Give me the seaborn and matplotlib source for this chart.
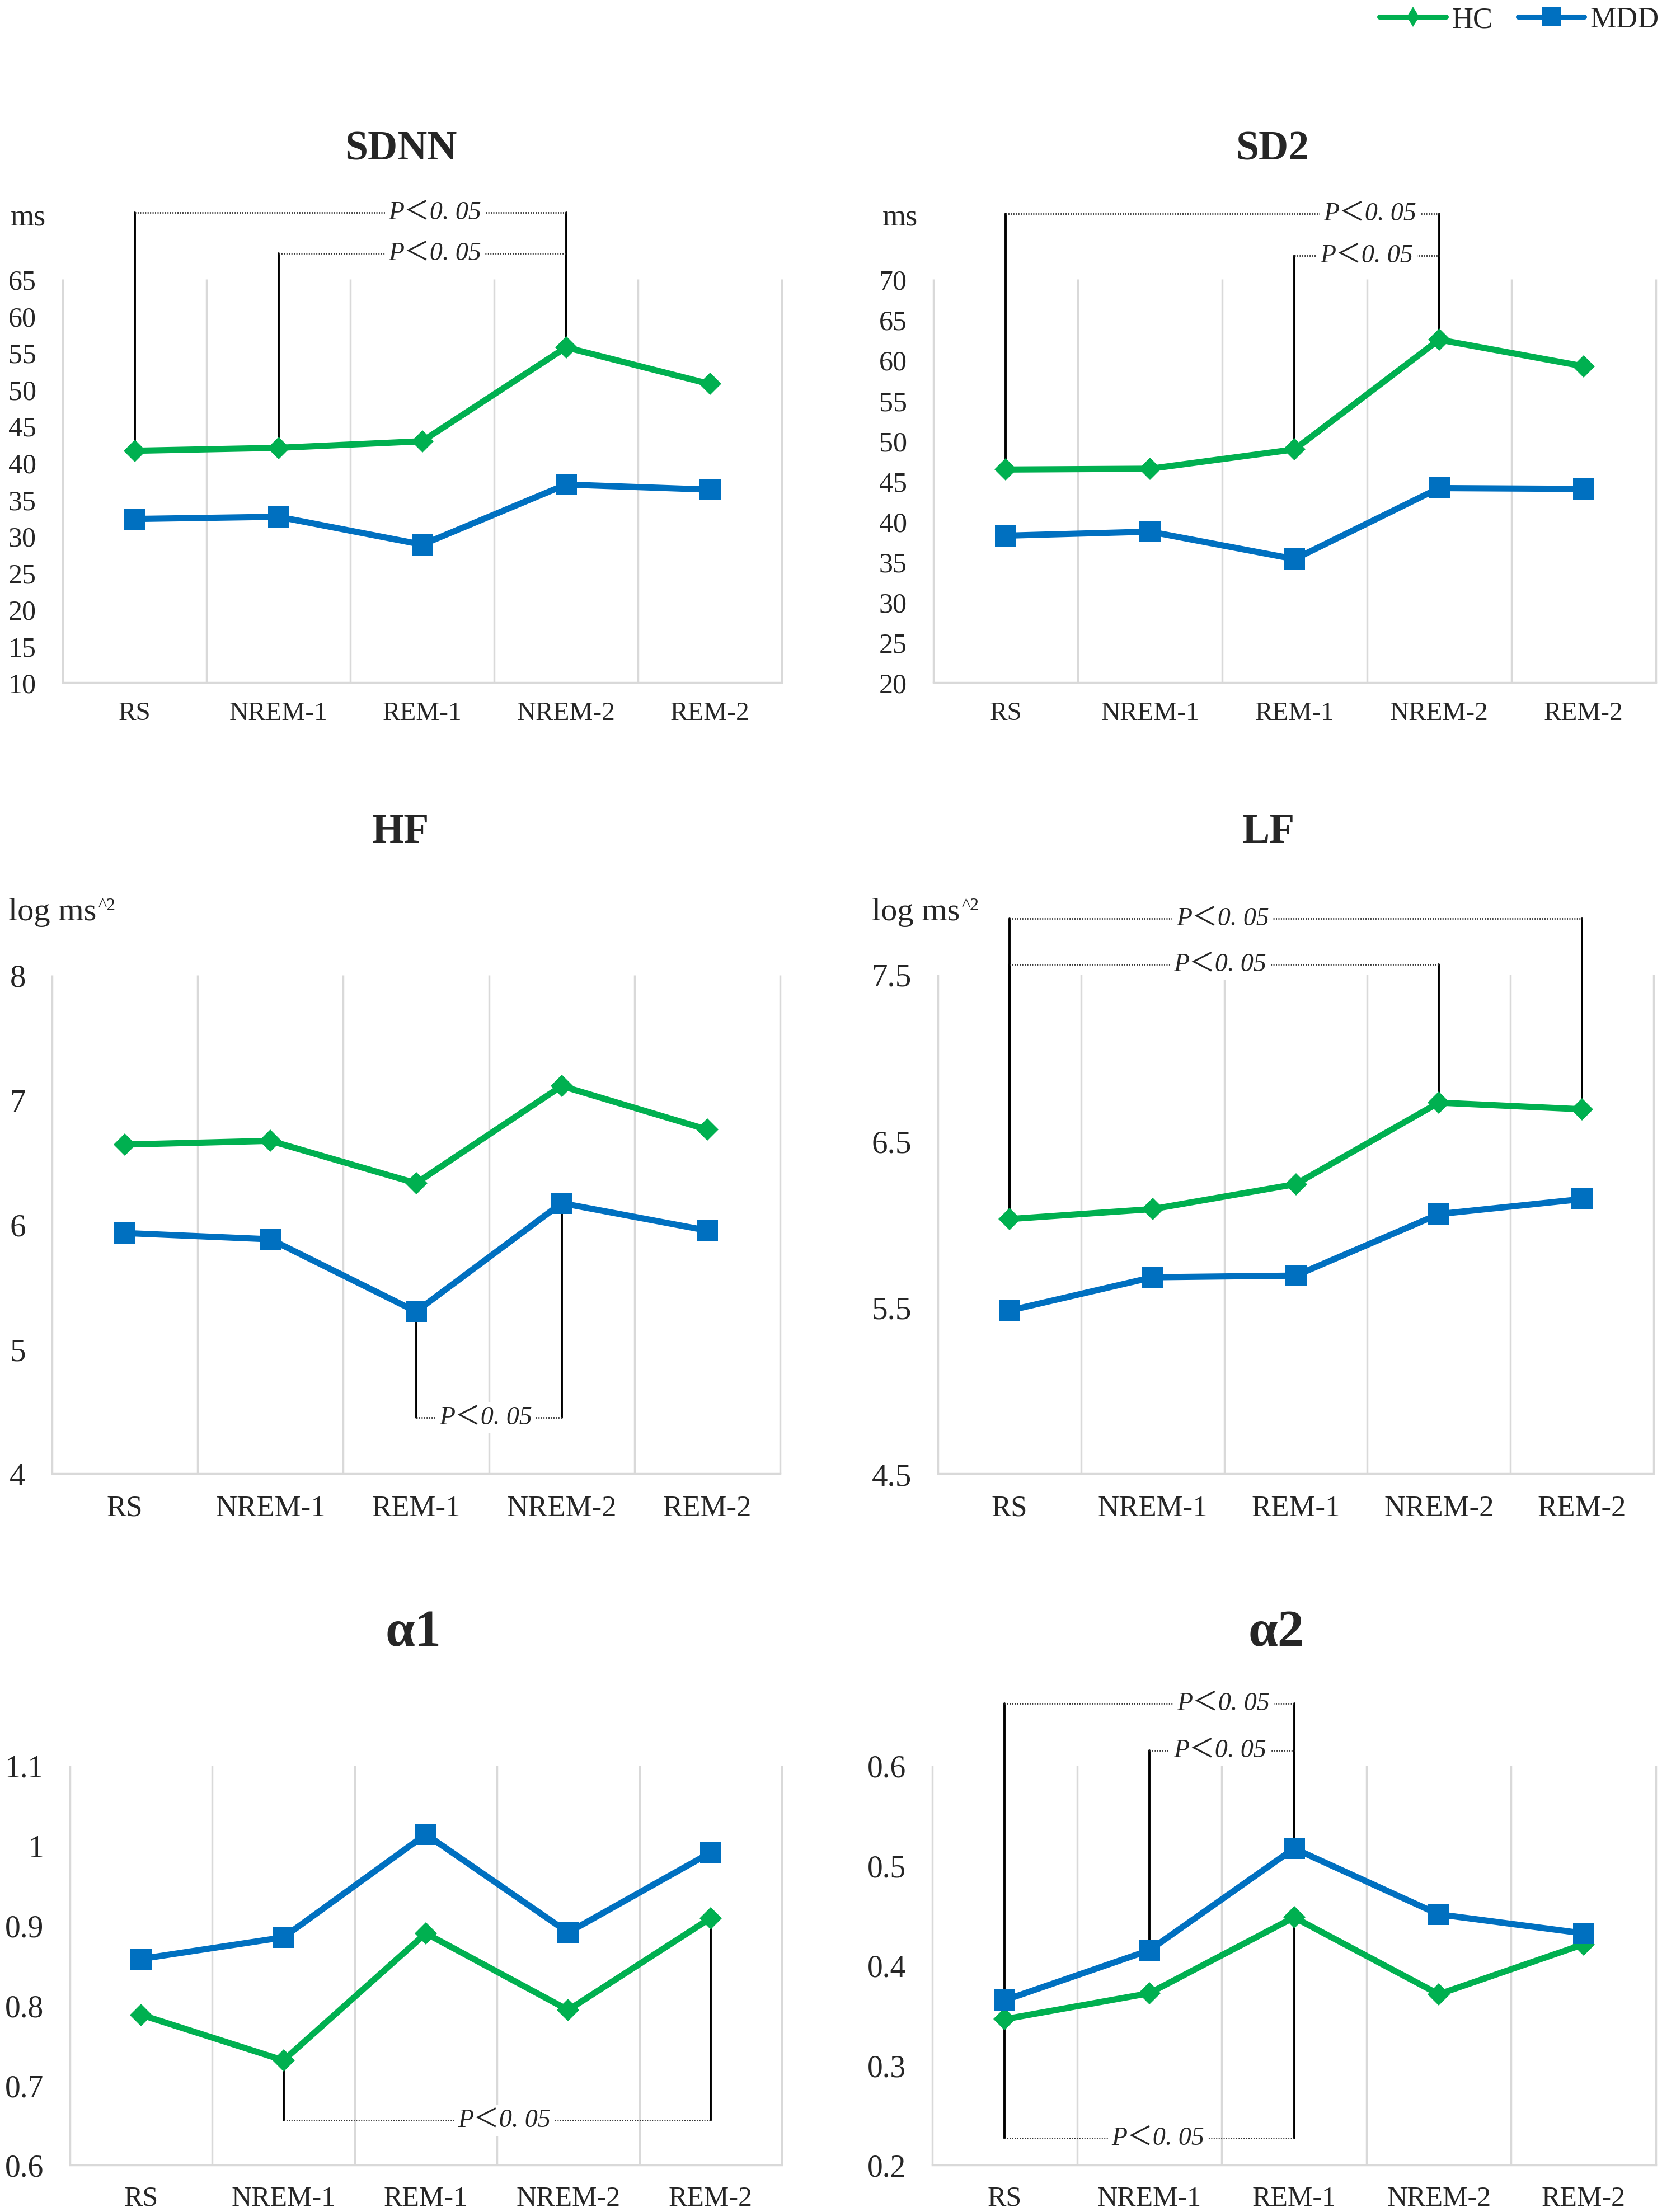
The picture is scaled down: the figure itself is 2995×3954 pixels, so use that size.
import numpy as np
import pandas as pd
import matplotlib
matplotlib.use("Agg")
import matplotlib.pyplot as plt
from matplotlib.lines import Line2D
import seaborn as sns

sns.set_theme(style="white")
plt.rcParams["font.family"] = ["Liberation Serif", "DejaVu Serif"]

# =========================
# Data
# =========================
stages = ["RS", "NREM-1", "REM-1", "NREM-2", "REM-2"]

sdnn_hc = [41.6, 42.0, 42.9, 55.7, 50.7]
sdnn_mdd = [32.3, 32.6, 28.8, 37.0, 36.3]

sd2_hc = [46.4, 46.5, 48.9, 62.5, 59.2]
sd2_mdd = [38.2, 38.7, 35.3, 44.1, 44.0]

hf_hc = [6.64, 6.67, 6.33, 7.11, 6.76]
hf_mdd = [5.93, 5.88, 5.30, 6.17, 5.95]

lf_hc = [6.03, 6.09, 6.24, 6.73, 6.69]
lf_mdd = [5.48, 5.68, 5.69, 6.06, 6.15]

a1_hc = [0.788, 0.731, 0.890, 0.794, 0.909]
a1_mdd = [0.858, 0.885, 1.014, 0.891, 0.991]

a2_hc = [0.346, 0.372, 0.448, 0.371, 0.421]
a2_mdd = [0.365, 0.415, 0.517, 0.451, 0.432]

# significance brackets: (stage a, stage b, group, bracket level)
sdnn_sig = [("RS", "NREM-2", "HC", 74.1), ("NREM-1", "NREM-2", "HC", 68.5)]
sd2_sig = [("RS", "NREM-2", "HC", 78.1), ("REM-1", "NREM-2", "HC", 72.9)]
hf_sig = [("REM-1", "NREM-2", "MDD", 4.45)]
lf_sig = [("RS", "REM-2", "HC", 7.835), ("RS", "NREM-2", "HC", 7.56)]
a1_sig = [("NREM-1", "REM-2", "HC", 0.656)]
a2_sig = [("RS", "REM-1", "MDD", 0.662), ("NREM-1", "REM-1", "MDD", 0.615),
          ("RS", "REM-1", "HC", 0.227)]
sig_label = "P＜0. 05"

# =========================
# Style
# =========================
W, H = 2995, 3955
green = "#00B050"
blue = "#0070C0"
grid_c = "#D9D9D9"

fig = plt.figure(figsize=(W / 100, H / 100), dpi=100)


def px_axes(left, top, right, bottom):
    return fig.add_axes([left / W, 1 - bottom / H, (right - left) / W, (bottom - top) / H])


def draw_panel(ax, hc, mdd, sig, sig_x, ylim, yticks, yticklabels,
               ysize, xsize, xpad):
    df = pd.DataFrame({
        "stage": stages * 2,
        "value": list(hc) + list(mdd),
        "group": ["HC"] * len(stages) + ["MDD"] * len(stages),
    })
    vals = {"HC": hc, "MDD": mdd}

    # gridlines between categories
    ax.vlines(np.arange(-0.5, 5, 1), ylim[0], ylim[1], color=grid_c,
              linewidth=2.5, zorder=0, clip_on=False)

    sns.lineplot(data=df[df["group"] == "HC"], x="stage", y="value",
                 color=green, marker="D", markersize=20.5, markeredgewidth=0,
                 linewidth=8, sort=False, ax=ax, zorder=3)
    sns.lineplot(data=df[df["group"] == "MDD"], x="stage", y="value",
                 color=blue, marker="s", markersize=28, markeredgewidth=0,
                 linewidth=8, sort=False, ax=ax, zorder=4)

    # significance brackets
    for (a, b, g, lvl), tx in zip(sig, sig_x):
        ia, ib = stages.index(a), stages.index(b)
        ax.plot([ia, ia], [vals[g][ia], lvl], color="black", linewidth=2.8,
                zorder=2, clip_on=False)
        ax.plot([ib, ib], [vals[g][ib], lvl], color="black", linewidth=2.8,
                zorder=2, clip_on=False)
        ax.plot([ia, ib], [lvl, lvl], color="#333333", linewidth=2.0,
                linestyle=(0, (0.7, 0.9)), zorder=2, clip_on=False)
        ax.text(tx, lvl, sig_label, ha="center", va="center", fontsize=33,
                style="italic", zorder=5, clip_on=False,
                family=["Liberation Serif", "Noto Sans CJK SC"],
                bbox=dict(facecolor="white", edgecolor="none", pad=5))

    ax.set_xlim(-0.5, 4.5)
    ax.set_ylim(*ylim)
    ax.set_yticks(yticks)
    ax.set_yticklabels(yticklabels)
    ax.set_xlabel("")
    ax.set_ylabel("")
    ax.tick_params(axis="y", length=0, pad=34, labelsize=ysize)
    ax.tick_params(axis="x", length=0, pad=xpad, labelsize=xsize)
    for s in ["left", "top", "right"]:
        ax.spines[s].set_visible(False)
    ax.spines["bottom"].set_color(grid_c)
    ax.spines["bottom"].set_linewidth(2.5)
    ax.grid(False)
    ax.set_facecolor("none")


# =========================
# Panels
# =========================
ax1 = px_axes(112, 500, 1397, 1221)
draw_panel(ax1, sdnn_hc, sdnn_mdd, sdnn_sig, [2.09, 2.09], (10, 65),
           np.arange(10, 66, 5), [str(v) for v in range(10, 66, 5)], 36, 34, 24)

ax2 = px_axes(1668, 500, 2959, 1221)
draw_panel(ax2, sd2_hc, sd2_mdd, sd2_sig, [2.52, 2.50], (20, 70),
           np.arange(20, 71, 5), [str(v) for v in range(20, 71, 5)], 36, 34, 24)

ax3 = px_axes(93, 1744, 1394, 2635)
draw_panel(ax3, hf_hc, hf_mdd, hf_sig, [2.48], (4, 8),
           [4, 5, 6, 7, 8], ["4", "5", "6", "7", "8"], 41, 38, 27)

ax4 = px_axes(1676, 1743, 2955, 2635)
draw_panel(ax4, lf_hc, lf_mdd, lf_sig, [1.49, 1.47], (4.5, 7.5),
           [4.5, 5.5, 6.5, 7.5], ["4.5", "5.5", "6.5", "7.5"], 41, 38, 27)

ax5 = px_axes(125, 3157, 1397, 3871)
draw_panel(ax5, a1_hc, a1_mdd, a1_sig, [2.55], (0.6, 1.1),
           [0.6, 0.7, 0.8, 0.9, 1.0, 1.1], ["0.6", "0.7", "0.8", "0.9", "1", "1.1"],
           40, 36, 26)

ax6 = px_axes(1666, 3157, 2959, 3871)
draw_panel(ax6, a2_hc, a2_mdd, a2_sig, [1.51, 1.49, 1.06], (0.2, 0.6),
           [0.2, 0.3, 0.4, 0.5, 0.6], ["0.2", "0.3", "0.4", "0.5", "0.6"],
           40, 36, 26)

# =========================
# Titles and unit labels
# =========================
titles = [("SDNN", 716, 285, 53), ("SD2", 2274, 285, 53),
          ("HF", 716, 1506, 53), ("LF", 2267, 1506, 53),
          ("α1", 738, 2942, 68), ("α2", 2281, 2942, 68)]
for t, x, y, fs in titles:
    fig.text(x / W, 1 - y / H, t, ha="center", va="baseline",
             fontsize=fs, fontweight="bold")

fig.text(19 / W, 1 - 404 / H, "ms", ha="left", va="baseline", fontsize=39)
fig.text(1577 / W, 1 - 404 / H, "ms", ha="left", va="baseline", fontsize=39)

for x0, ax_ref in [(15, ax3), (1558, ax4)]:
    t = fig.text(x0 / W, 1 - 1645 / H, "log ms", ha="left", va="baseline",
                 fontsize=42)
    ax_ref.annotate("^2", xy=(1, 1), xycoords=t, xytext=(2, 0),
                    textcoords="offset points", ha="left", va="top",
                    fontsize=23, annotation_clip=False)

# =========================
# Legend
# =========================
handles = [
    Line2D([0], [0], color=green, linewidth=6.5, marker="d", markersize=18,
           markeredgewidth=0),
    Line2D([0], [0], color=blue, linewidth=6.5, marker="s", markersize=24,
           markeredgewidth=0),
]
fig.legend(handles, ["HC", "MDD"], loc="center right",
           bbox_to_anchor=(2965 / W, 1 - 36 / H), ncol=2, frameon=False,
           fontsize=38, handlelength=2.25, handletextpad=0.2,
           columnspacing=0.85, borderaxespad=0, borderpad=0)

plt.savefig("out.png", dpi=100)
